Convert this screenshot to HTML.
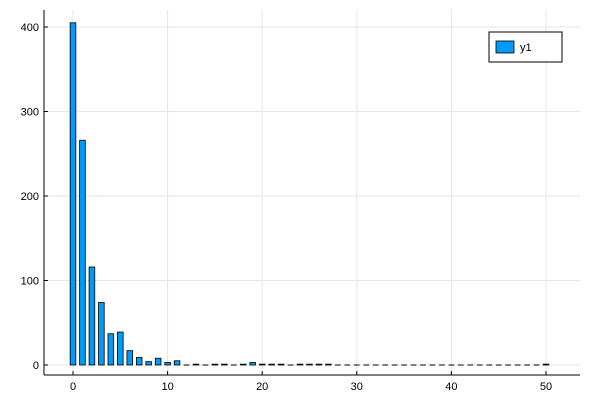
<!DOCTYPE html>
<html><head><meta charset="utf-8"><style>
body{margin:0;background:#fff;font-family:"Liberation Sans",sans-serif}
</style></head><body>
<svg id="chart" width="600" height="400" xmlns="http://www.w3.org/2000/svg" font-family="Liberation Sans, sans-serif" font-size="11">
<rect width="600" height="400" fill="#fff"/>
<g id="grid"></g>
<g id="bars"></g>
<g id="axes"></g>
<g>
<rect x="489" y="32" width="73" height="30" fill="#fff" stroke="#000" stroke-width="1"/>
<rect x="496" y="41" width="18" height="12" fill="#009af9" stroke="#000" stroke-width="0.8"/>
<text x="520" y="51" font-size="11">y1</text>
</g>
</svg>
<script>
const categories=[];for(let i=0;i<=50;i++)categories.push(i);
const values=[405,266,116,74,37,39,17,9,4,8,3,5,0,1,0,1,1,0,1,3,1,1,1,0,1,1,1,1,0,0,0,0,0,0,0,0,0,0,0,0,0,0,0,0,0,0,0,0,0,0,1];
const xTicks=[0,10,20,30,40,50];
const yTicks=[0,100,200,300,400];
const NS="http://www.w3.org/2000/svg";
const L=44,R=580,T=10,B=375;
const xs=v=>73+v*9.46;
const ys=v=>365-v*0.845;
function mk(t,a,p){const e=document.createElementNS(NS,t);for(const k in a)e.setAttribute(k,a[k]);p.appendChild(e);return e;}
const grid=document.getElementById('grid'),bars=document.getElementById('bars'),axes=document.getElementById('axes');
xTicks.forEach(t=>{
 const g=mk('line',{x1:xs(t),x2:xs(t),y1:T,y2:B,stroke:'#e6e6e6','stroke-width':1},grid);
 
 
 const tk=mk('line',{x1:xs(t),x2:xs(t),y1:B,y2:B-4,stroke:'#000'},axes);
 
 
 const tx=mk('text',{x:xs(t),y:390,'text-anchor':'middle'},axes);tx.textContent=t;
 
 
});
yTicks.forEach(t=>{
 const g=mk('line',{x1:L,x2:R,y1:ys(t),y2:ys(t),stroke:'#e6e6e6','stroke-width':1},grid);
 
 
 const tk=mk('line',{x1:L,x2:L+4,y1:ys(t),y2:ys(t),stroke:'#000'},axes);
 
 
 const tx=mk('text',{x:L-5,y:ys(t)+4,'text-anchor':'end'},axes);tx.textContent=t;
 
 
});
const w=0.6*9.46;
categories.forEach((c,i)=>{
 const y0=ys(0),y1=ys(values[i]);
 if(values[i]===0){
  const z=mk('line',{x1:xs(c)-w/2,x2:xs(c)+w/2,y1:y0,y2:y0,stroke:'#000','stroke-width':1},bars);
  
  
  return;
 }
 const r=mk('rect',{x:xs(c)-w/2,y:Math.min(y0,y1),width:w,height:Math.abs(y0-y1),fill:'#009af9',stroke:'#000','stroke-width':0.8},bars);
 
 
});
const xa=mk('line',{x1:L,x2:R,y1:B,y2:B,stroke:'#000'},axes);


const ya=mk('line',{x1:L,x2:L,y1:T,y2:B,stroke:'#000'},axes);


</script>
</body></html>
